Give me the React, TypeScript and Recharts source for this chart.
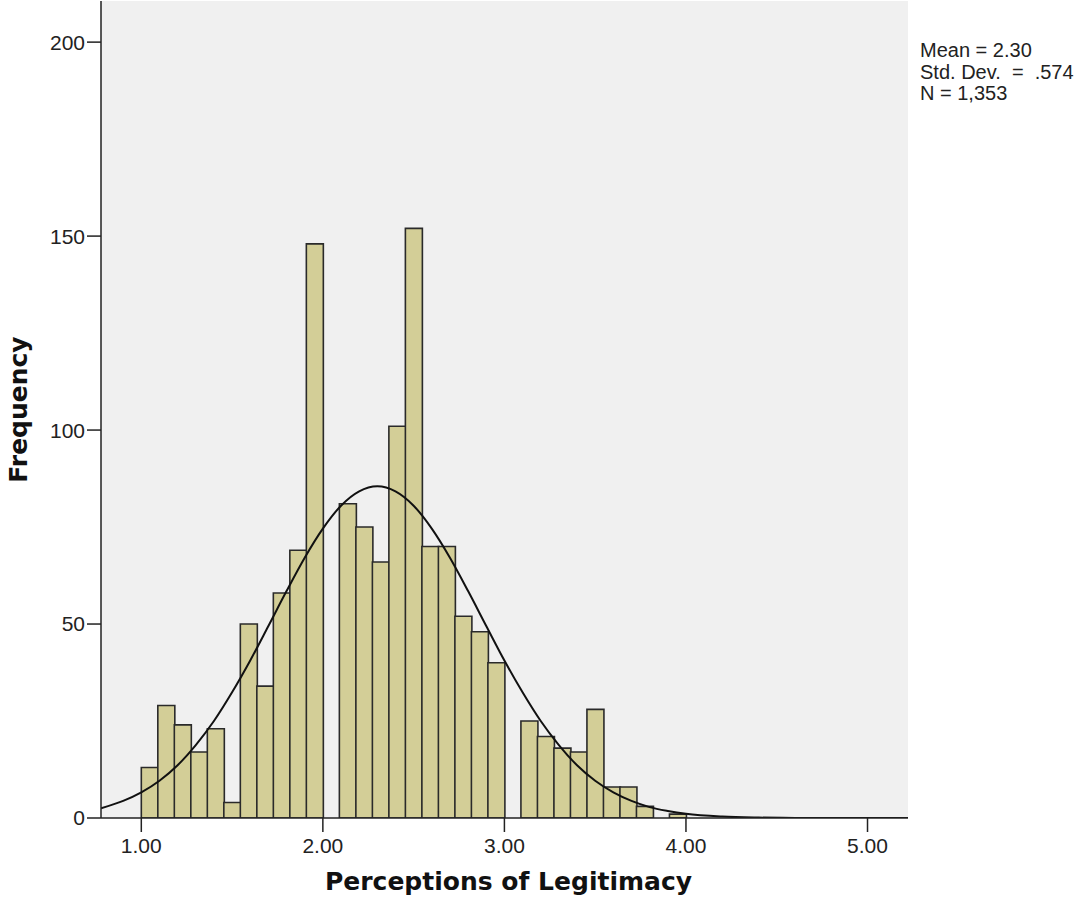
import React from "react";
import {
  Bar,
  CartesianGrid,
  ComposedChart,
  Line,
  XAxis,
  YAxis,
} from "recharts";

// bin centres (bin width = 1/11, starting at 1.00)
const binCenters = [
  1.0455, 1.1364, 1.2273, 1.3182, 1.4091, 1.5, 1.5909, 1.6818, 1.7727, 1.8636,
  1.9545, 2.0455, 2.1364, 2.2273, 2.3182, 2.4091, 2.5, 2.5909, 2.6818, 2.7727,
  2.8636, 2.9545, 3.0455, 3.1364, 3.2273, 3.3182, 3.4091, 3.5, 3.5909, 3.6818,
  3.7727, 3.8636, 3.9545,
];
const frequencies = [
  13, 29, 24, 17, 23, 4, 50, 34, 58, 69, 148, 0, 81, 75, 66, 101, 152, 70, 70,
  52, 48, 40, 0, 25, 21, 18, 17, 28, 8, 8, 3, 0, 1,
];

// normal curve as drawn in the picture
const curveX = [
  0.778, 0.9, 1.0, 1.1, 1.2, 1.3, 1.4, 1.5, 1.6, 1.7, 1.8, 1.9, 2.0, 2.1, 2.2,
  2.3, 2.4, 2.5, 2.6, 2.7, 2.8, 2.9, 3.0, 3.1, 3.2, 3.3, 3.4, 3.5, 3.6, 3.7,
  3.8, 3.9, 4.0, 4.2, 4.4, 4.6, 4.8, 5.0, 5.223,
];
const curveY = [
  2.5, 4.4, 6.6, 9.6, 13.6, 18.8, 25.0, 32.4, 40.6, 49.5, 58.5, 67.1, 74.6,
  80.5, 84.2, 85.5, 84.2, 80.5, 74.6, 67.1, 58.5, 49.5, 40.6, 32.4, 25.0, 18.8,
  13.6, 9.6, 6.6, 4.4, 2.8, 1.8, 1.07, 0.36, 0.11, 0.03, 0.01, 0, 0,
];

const xTicks = [1, 2, 3, 4, 5];
const yTicks = [0, 50, 100, 150, 200];
const statLines = ["Mean = 2.30", "Std. Dev.  =  .574", "N = 1,353"];

const xDomain: [number, number] = [0.778, 5.223];
const yDomain: [number, number] = [0, 210.6];

const bins = binCenters.map((x, i) => ({ x, count: frequencies[i] }));
const curve = curveX.map((x, i) => ({ x, y: curveY[i] }));

const ink = "#222";
const tickFont = { fontSize: 21, fill: ink, fontFamily: "Liberation Sans, Arial, sans-serif" };
const labelFont = {
  fontSize: 25,
  fontWeight: 700,
  fill: "#111",
  fontFamily: "DejaVu Sans, sans-serif",
};

export default function App() {
  return (
    <div style={{ position: "absolute", left: 0, top: 0, width: 1078, height: 909, background: "#fff" }}>
      <ComposedChart
        width={1078}
        height={909}
        data={bins}
        margin={{ top: 1, right: 170, bottom: 0, left: 0 }}
        barCategoryGap={0}
        barGap={0}
      >
        <CartesianGrid fill="#f0f0f0" horizontal={false} vertical={false} />
        <XAxis
          dataKey="x"
          type="number"
          domain={xDomain}
          ticks={xTicks}
          allowDataOverflow
          tickFormatter={(v: number) => v.toFixed(2)}
          height={91}
          tick={tickFont}
          tickSize={14}
          tickMargin={6}
          axisLine={{ stroke: ink, strokeWidth: 1.5 }}
          tickLine={{ stroke: ink, strokeWidth: 1.5 }}
          label={{
            value: "Perceptions of Legitimacy",
            position: "insideBottom",
            offset: 19,
            dx: 4,
            style: labelFont,
          }}
        />
        <XAxis
          xAxisId="curve"
          dataKey="x"
          type="number"
          domain={xDomain}
          allowDataOverflow
          hide
        />
        <XAxis
          xAxisId="frameTop"
          orientation="top"
          type="number"
          domain={[0, 1]}
          height={0}
          tick={false}
          tickLine={false}
          axisLine={{ stroke: ink, strokeWidth: 1.5 }}
        />
        <YAxis
          type="number"
          domain={yDomain}
          ticks={yTicks}
          allowDataOverflow
          width={101}
          tick={tickFont}
          tickSize={14}
          tickMargin={2}
          axisLine={{ stroke: ink, strokeWidth: 1.5 }}
          tickLine={{ stroke: ink, strokeWidth: 1.5 }}
          label={{
            value: "Frequency",
            angle: -90,
            position: "insideLeft",
            offset: 18,
            textAnchor: "middle",
            style: { ...labelFont, textAnchor: "middle" },
          }}
        />
        <YAxis
          yAxisId="frameRight"
          orientation="right"
          type="number"
          domain={[0, 1]}
          width={0}
          tick={false}
          tickLine={false}
          axisLine={{ stroke: ink, strokeWidth: 1.5 }}
        />
        <Bar
          dataKey="count"
          fill="#d3ce97"
          stroke="#2a2a2a"
          strokeWidth={1.6}
          isAnimationActive={false}
        />
        <Line
          xAxisId="curve"
          data={curve}
          dataKey="y"
          type="monotone"
          stroke="#111"
          strokeWidth={2}
          dot={false}
          activeDot={false}
          isAnimationActive={false}
        />
      </ComposedChart>
      <div
        style={{
          position: "absolute",
          left: 920,
          top: 40,
          fontFamily: "Liberation Sans, Arial, sans-serif",
          fontSize: 20,
          lineHeight: "21.5px",
          color: ink,
          whiteSpace: "pre",
        }}
      >
        {statLines.map((s) => (
          <div key={s}>{s}</div>
        ))}
      </div>
    </div>
  );
}
